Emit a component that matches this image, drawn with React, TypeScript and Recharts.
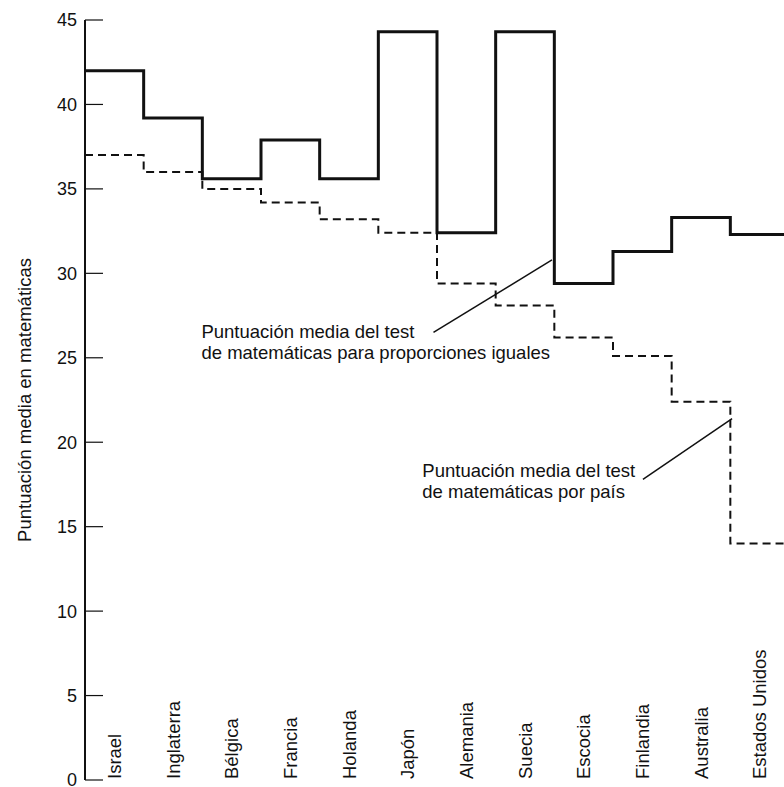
import { Line, LineChart, ReferenceDot, ReferenceLine, XAxis, YAxis } from "recharts";

const categories = [
  "Israel",
  "Inglaterra",
  "Bélgica",
  "Francia",
  "Holanda",
  "Japón",
  "Alemania",
  "Suecia",
  "Escocia",
  "Finlandia",
  "Australia",
  "Estados Unidos",
];

// media para proporciones iguales (línea continua)
const equalShareScores = [42.0, 39.2, 35.6, 37.9, 35.6, 44.3, 32.4, 44.3, 29.4, 31.3, 33.3, 32.3];
// media por país (línea discontinua)
const countryScores = [37.0, 36.0, 35.0, 34.2, 33.2, 32.4, 29.4, 28.1, 26.2, 25.1, 22.4, 14.0];

const yTicks = [0, 5, 10, 15, 20, 25, 30, 35, 40, 45];

const FONT = '"Liberation Sans", Arial, Helvetica, sans-serif';
const INK = "#111";

// step table: one row per country, plus a closing row so the last step has its width
const table = categories.map((name, i) => ({
  x: i,
  name,
  solid: equalShareScores[i],
  dashed: countryScores[i],
}));
table.push({
  x: categories.length,
  name: "",
  solid: equalShareScores[equalShareScores.length - 1],
  dashed: countryScores[countryScores.length - 1],
});

const xTicks = categories.map((_, i) => i + 0.5);

function YTick(props: any) {
  const { x, y, payload } = props;
  return (
    <g>
      <line x1={x + 8} x2={x + 26} y1={y} y2={y} stroke={INK} strokeWidth={1.2} />
      <text x={x} y={y} dy="0.36em" textAnchor="end" fontFamily={FONT} fontSize={18} fill={INK}>
        {payload.value}
      </text>
    </g>
  );
}

function CountryTick(props: any) {
  const { x, y, payload } = props;
  const label = categories[Math.floor(payload.value)];
  const ty = y - 1;
  return (
    <text
      x={x}
      y={ty}
      dy="0.36em"
      transform={`rotate(-90 ${x} ${ty})`}
      textAnchor="start"
      fontFamily={FONT}
      fontSize={18.5}
      fill={INK}
    >
      {label}
    </text>
  );
}

function note(lines: string[]) {
  return (props: any) => {
    const { viewBox } = props;
    const x = viewBox.x + viewBox.width / 2;
    const y = viewBox.y + viewBox.height / 2;
    return (
      <text x={x} y={y} fontFamily={FONT} fontSize={18.5} fill={INK}>
        {lines.map((l, i) => (
          <tspan key={i} x={x} dy={i === 0 ? 0 : 21.5}>
            {l}
          </tspan>
        ))}
      </text>
    );
  };
}

function YLabel(props: any) {
  const { viewBox } = props;
  const cx = viewBox.x + 24;
  const cy = viewBox.y + viewBox.height / 2;
  return (
    <text
      x={cx}
      y={cy}
      dy="0.36em"
      transform={`rotate(-90 ${cx} ${cy})`}
      textAnchor="middle"
      fontFamily={FONT}
      fontSize={18.5}
      fill={INK}
    >
      Puntuación media en matemáticas
    </text>
  );
}

export default function App() {
  return (
    <div
      style={{
        position: "absolute",
        left: 0,
        top: 0,
        width: 784,
        height: 787,
        overflow: "hidden",
        background: "#fff",
      }}
    >
      <LineChart width={800} height={800} data={table} margin={{ top: 20, right: 11, bottom: 10, left: 0 }}>
        <XAxis
          dataKey="x"
          type="number"
          domain={[0, categories.length]}
          ticks={xTicks}
          interval={0}
          height={10}
          axisLine={false}
          tickLine={false}
          tickSize={0}
          tickMargin={0}
          tick={<CountryTick />}
        />
        <YAxis
          type="number"
          domain={[0, 45]}
          ticks={yTicks}
          interval={0}
          width={85}
          axisLine={{ stroke: INK, strokeWidth: 2 }}
          tickLine={false}
          tickSize={0}
          tickMargin={8}
          tick={<YTick />}
          label={YLabel}
        />
        <Line
          type="stepAfter"
          dataKey="dashed"
          stroke={INK}
          strokeWidth={2}
          strokeDasharray="8 5"
          dot={false}
          activeDot={false}
          isAnimationActive={false}
        />
        <Line
          type="stepAfter"
          dataKey="solid"
          stroke={INK}
          strokeWidth={3}
          dot={false}
          activeDot={false}
          isAnimationActive={false}
        />
        <ReferenceLine
          segment={[
            { x: 5.94, y: 26.5 },
            { x: 7.96, y: 30.8 },
          ]}
          stroke={INK}
          strokeWidth={1.5}
        />
        <ReferenceLine
          segment={[
            { x: 9.51, y: 17.8 },
            { x: 11.03, y: 21.4 },
          ]}
          stroke={INK}
          strokeWidth={1.5}
        />
        <ReferenceDot
          x={1.985}
          y={26.18}
          r={0}
          fill="none"
          stroke="none"
          label={note(["Puntuación media del test", "de matemáticas para proporciones iguales"])}
        />
        <ReferenceDot
          x={5.75}
          y={17.95}
          r={0}
          fill="none"
          stroke="none"
          label={note(["Puntuación media del test", "de matemáticas por país"])}
        />
      </LineChart>
    </div>
  );
}
